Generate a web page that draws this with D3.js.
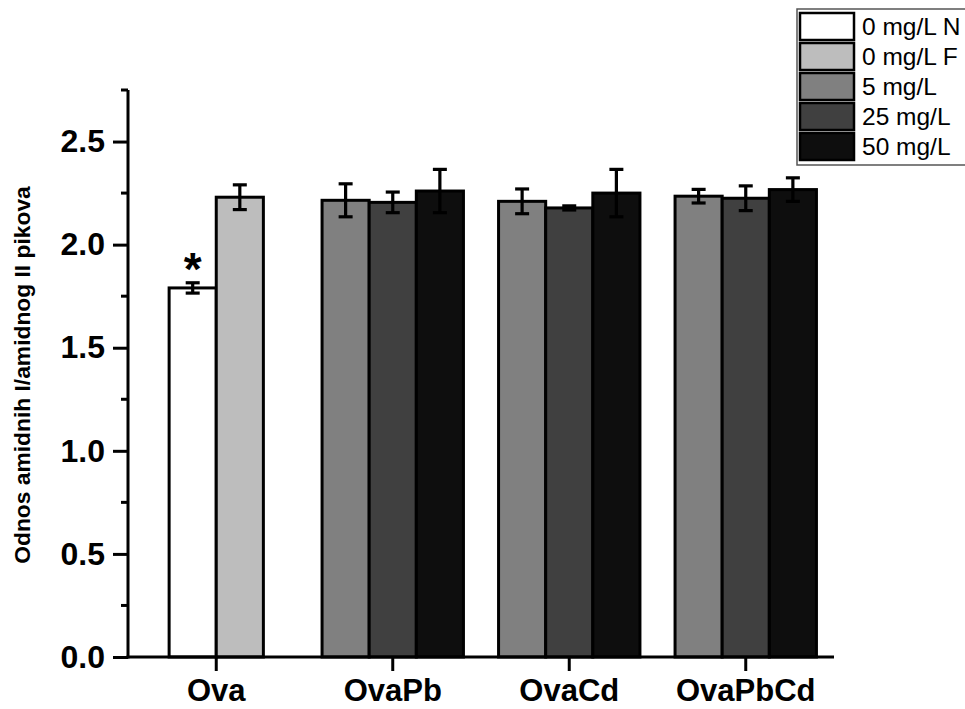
<!DOCTYPE html>
<html>
<head>
<meta charset="utf-8">
<script src="https://cdn.jsdelivr.net/npm/d3@7"></script>
<style>
  html, body { margin: 0; padding: 0; background: #fff; }
  svg { display: block; font-family: "Liberation Sans", Arial, sans-serif; }
</style>
</head>
<body>
<svg id="chart" width="965" height="709"></svg>
<script>
// Sample groups along the x axis
const categories = ["Ova", "OvaPb", "OvaCd", "OvaPbCd"];

// Treatment series (legend order)
const seriesLabels = ["0 mg/L N", "0 mg/L F", "5 mg/L", "25 mg/L", "50 mg/L"];

// Mean amide I / amide II ratio per series, per group (null = not measured)
const mean0N  = [1.79, null, null, null];
const mean0F  = [2.23, null, null, null];
const mean5   = [null, 2.215, 2.21, 2.235];
const mean25  = [null, 2.205, 2.178, 2.225];
const mean50  = [null, 2.26, 2.25, 2.267];

// Standard deviations
const sd0N  = [0.025, null, null, null];
const sd0F  = [0.06, null, null, null];
const sd5   = [null, 0.08, 0.06, 0.033];
const sd25  = [null, 0.05, 0.01, 0.06];
const sd50  = [null, 0.105, 0.115, 0.057];

// Y axis ticks
const yMajorTicks = [0, 0.5, 1.0, 1.5, 2.0, 2.5];
const yMinorTicks = [0.25, 0.75, 1.25, 1.75, 2.25, 2.75];

// Significance marks
const markGroups = ["Ova"];
const markSeries = [0];
const markText = ["*"];

const seriesColors = ["#ffffff", "#bdbdbd", "#808080", "#404040", "#0e0e0e"];
const seriesMeans = [mean0N, mean0F, mean5, mean25, mean50];
const seriesSds = [sd0N, sd0F, sd5, sd25, sd50];

const svg = d3.select("#chart");

const x = d3.scaleBand().domain(categories).range([128, 834]).padding(0);
const y = d3.scaleLinear().domain([0, 2.75]).range([657, 90]);

const barWidth = x.bandwidth() * 0.267;

// Collect the bars of each group; bars in a group sit side by side, centred on the group
const bars = [];
categories.forEach((cat, ci) => {
  const present = seriesMeans.map((m, si) => si).filter(si => seriesMeans[si][ci] != null);
  present.forEach((si, k) => {
    const cx = x(cat) + x.bandwidth() / 2 + (k - (present.length - 1) / 2) * barWidth;
    bars.push({ cat, si, cx, mean: seriesMeans[si][ci], sd: seriesSds[si][ci] });
  });
});

const g = svg.append("g");

g.selectAll("rect.bar")
  .data(bars)
  .join("rect")
  .attr("class", "bar")
  .attr("x", d => d.cx - barWidth / 2)
  .attr("width", barWidth)
  .attr("y", d => y(d.mean))
  .attr("height", d => y(0) - y(d.mean))
  .attr("fill", d => seriesColors[d.si])
  .attr("stroke", "#000")
  .attr("stroke-width", 3);

// Error bars
const capW = 14;
const eb = g.selectAll("g.err").data(bars).join("g").attr("class", "err")
  .attr("stroke", "#000").attr("stroke-width", 3.2);
eb.append("line")
  .attr("x1", d => d.cx).attr("x2", d => d.cx)
  .attr("y1", d => y(d.mean + d.sd)).attr("y2", d => y(d.mean - d.sd));
eb.append("line")
  .attr("x1", d => d.cx - capW / 2).attr("x2", d => d.cx + capW / 2)
  .attr("y1", d => y(d.mean + d.sd)).attr("y2", d => y(d.mean + d.sd));
eb.append("line")
  .attr("x1", d => d.cx - capW / 2).attr("x2", d => d.cx + capW / 2)
  .attr("y1", d => y(d.mean - d.sd)).attr("y2", d => y(d.mean - d.sd));

// Significance asterisks
markGroups.forEach((grp, i) => {
  const b = bars.find(d => d.cat === grp && d.si === markSeries[i]);
  g.append("text")
    .attr("x", b.cx)
    .attr("y", y(b.mean + b.sd) + 2)
    .attr("text-anchor", "middle")
    .attr("font-size", 46)
    .attr("font-weight", "bold")
    .text(markText[i]);
});

// Y axis
const yAxis = g.append("g").attr("transform", "translate(128,0)");
yAxis.call(d3.axisLeft(y).tickValues(yMajorTicks).tickFormat(d3.format(".1f")).tickSize(15).tickPadding(8));
yAxis.selectAll(".tick line").attr("stroke", "#000").attr("stroke-width", 3);
yAxis.selectAll(".tick text").attr("font-size", 32).attr("font-weight", "bold").attr("fill", "#000")
  .attr("font-family", "Liberation Sans, Arial, sans-serif");
yAxis.select(".domain").remove();
yAxis.selectAll("line.minor").data(yMinorTicks).join("line").attr("class", "minor")
  .attr("x1", -7).attr("x2", 0).attr("y1", d => y(d)).attr("y2", d => y(d))
  .attr("stroke", "#000").attr("stroke-width", 3);
yAxis.append("line").attr("x1", 0).attr("x2", 0).attr("y1", y(2.75)).attr("y2", y(0) + 1.5)
  .attr("stroke", "#000").attr("stroke-width", 3);

// X axis
const xAxis = g.append("g").attr("transform", "translate(0,657)");
xAxis.call(d3.axisBottom(x).tickSize(14).tickPadding(8));
xAxis.selectAll(".tick line").attr("stroke", "#000").attr("stroke-width", 3);
xAxis.selectAll(".tick text").attr("font-size", 31).attr("font-weight", "bold").attr("fill", "#000")
  .attr("font-family", "Liberation Sans, Arial, sans-serif");
xAxis.select(".domain").remove();
xAxis.append("line").attr("x1", 126.5).attr("x2", 834).attr("y1", 0).attr("y2", 0)
  .attr("stroke", "#000").attr("stroke-width", 3);

// Y axis title
svg.append("text")
  .attr("transform", "translate(30,375) rotate(-90)")
  .attr("text-anchor", "middle")
  .attr("font-size", 22.8)
  .attr("font-weight", "bold")
  .text("Odnos amidnih I/amidnog II pikova");

// Legend
const legend = svg.append("g");
legend.append("rect")
  .attr("x", 797).attr("y", 9).attr("width", 180).attr("height", 156)
  .attr("fill", "#fff").attr("stroke", "#555").attr("stroke-width", 1.5);
const items = legend.selectAll("g.item").data(seriesLabels).join("g").attr("class", "item")
  .attr("transform", (d, i) => `translate(800,${13 + i * 30})`);
items.append("rect")
  .attr("x", 0).attr("y", 0).attr("width", 54).attr("height", 27)
  .attr("fill", (d, i) => seriesColors[i]).attr("stroke", "#000").attr("stroke-width", 2.5);
items.append("text")
  .attr("x", 62).attr("y", 22)
  .attr("font-size", 24.5)
  .text(d => d);
</script>
</body>
</html>
